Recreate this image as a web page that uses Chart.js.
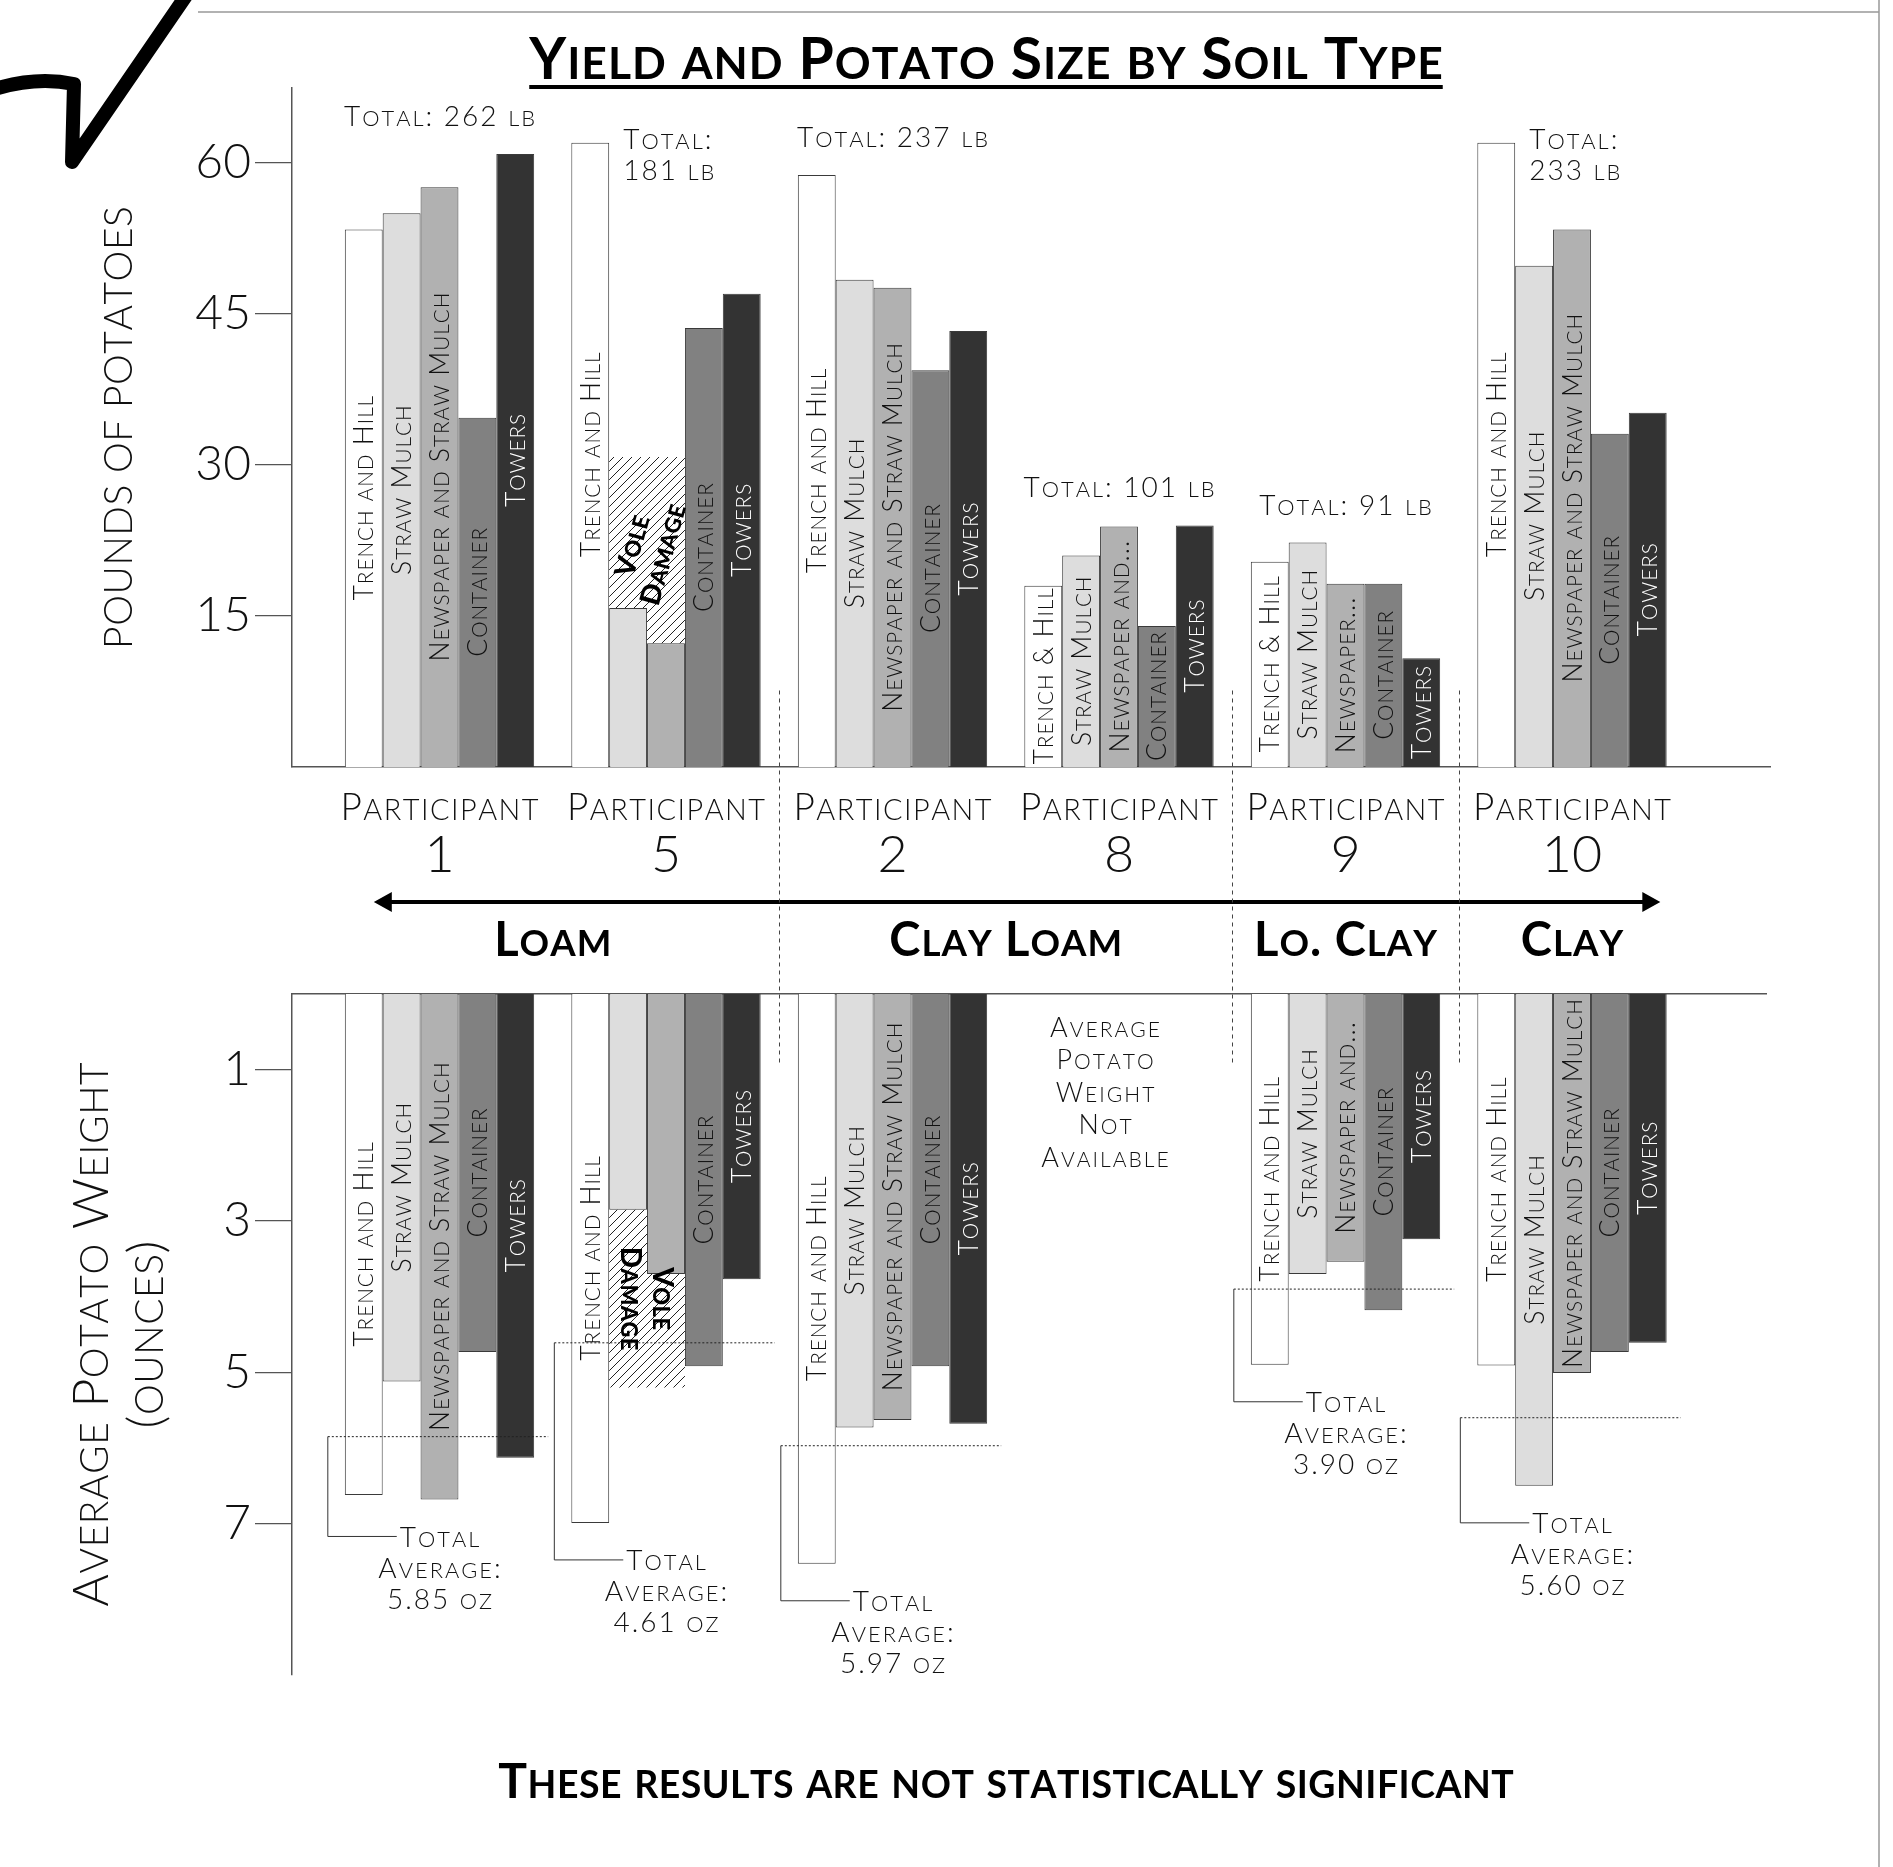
<!DOCTYPE html>
<html>
<head>
<meta charset="utf-8">
<script src="https://cdn.jsdelivr.net/npm/chart.js@4.4.1/dist/chart.umd.min.js"></script>
<style>
  html, body { margin: 0; padding: 0; background: #fff; }
  #wrap { position: relative; width: 1893px; height: 1867px; }
  #wrap canvas { position: absolute; left: 0; top: 0; }
</style>
</head>
<body>
<div id="wrap">
  <canvas id="yieldChart" width="1893" height="1867"></canvas>
  <canvas id="sizeChart" width="1893" height="1867"></canvas>
</div>
<script>
// participants, left to right, with their soil
const participants = ['1', '5', '2', '8', '9', '10'];
const soils = ['Loam', 'Loam', 'Clay Loam', 'Clay Loam', 'Lo. Clay', 'Clay'];
const methods = ['Trench and Hill', 'Straw Mulch', 'Newspaper and Straw Mulch', 'Container', 'Towers'];
const shortNames = [['Trench & Hill'], [], ['Newspaper and...', 'Newspaper...'], [], []];

// pounds of potatoes
const lbTrench = [53.4, 62.0, 58.8, 18.0, 20.4, 62.0];
const lbStraw = [55.0, 15.8, 48.4, 21.0, 22.3, 49.8];
const lbNews = [57.6, 12.3, 47.6, 23.9, 18.2, 53.4];
const lbContainer = [34.7, 43.6, 39.4, 14.0, 18.2, 33.1];
const lbTowers = [60.9, 47.0, 43.3, 24.0, 10.8, 35.2];
const totalLb = [262, 181, 237, 101, 91, 233];
const voleLb = [null, 30.8, null, null, null, null];
const lbTicks = [15, 30, 45, 60];

// average potato weight, ounces
const ozTrench = [6.62, 6.99, 7.53, null, 4.90, 4.91];
const ozStraw = [5.12, 2.85, 5.73, null, 3.70, 6.50];
const ozNews = [6.68, 3.70, 5.63, null, 3.54, 5.01];
const ozContainer = [4.73, 4.92, 4.92, null, 4.18, 4.73];
const ozTowers = [6.13, 3.77, 5.68, null, 3.24, 4.61];
const avgOz = [5.85, 4.61, 5.97, null, 3.90, 5.60];
const voleOz = [null, 5.20, null, null, null, null];
const ozTicks = [1, 3, 5, 7];

const voleMethods = [1, 2];   // straw mulch + newspaper beds were eaten

const lbSeries = [lbTrench, lbStraw, lbNews, lbContainer, lbTowers];
const ozSeries = [ozTrench, ozStraw, ozNews, ozContainer, ozTowers];
const fills = ['#ffffff', '#dddddd', '#b1b1b1', '#818181', '#333333'];
const inks = ['#111', '#111', '#111', '#111', '#fff'];

Chart.defaults.font.family = 'Lato';

function hatchFill() {
  const c = document.createElement('canvas');
  c.width = c.height = 9;
  const g = c.getContext('2d');
  g.strokeStyle = '#222';
  g.lineWidth = 1;
  g.beginPath();
  g.moveTo(0, 9); g.lineTo(9, 0);
  g.moveTo(-1, 1); g.lineTo(1, -1);
  g.moveTo(8, 10); g.lineTo(10, 8);
  g.stroke();
  return g.createPattern(c, 'repeat');
}
const hatch = hatchFill();

// small caps by hand: lower case letters drawn as smaller capitals
function scParts(text, size, ratio) {
  return [...text].map(ch => ({ ch: ch.toUpperCase(), size: ch !== ch.toUpperCase() ? size * ratio : size }));
}
function scWidth(ctx, text, o) {
  const parts = scParts(text, o.size, o.ratio || 0.78);
  let w = 0;
  parts.forEach((p, j) => {
    ctx.font = (o.weight || 300) + ' ' + p.size + 'px Lato';
    w += ctx.measureText(p.ch).width + (j < parts.length - 1 ? (o.track || 0) : 0);
  });
  return w;
}
function drawSC(ctx, text, x, y, o) {
  const w = scWidth(ctx, text, o);
  let cx = o.align === 'left' ? x : o.align === 'right' ? x - w : x - w / 2;
  const base = y + o.size * 0.36;
  ctx.fillStyle = o.color || '#111';
  ctx.textAlign = 'left';
  ctx.textBaseline = 'alphabetic';
  for (const p of scParts(text, o.size, o.ratio || 0.78)) {
    ctx.font = (o.weight || 300) + ' ' + p.size + 'px Lato';
    ctx.fillText(p.ch, cx, base);
    cx += ctx.measureText(p.ch).width + (o.track || 0);
  }
  return w;
}

function makeSets(series, vole) {
  const sets = series.map((vals, k) => ({
    label: methods[k],
    stack: 's' + k,
    data: vals.map((v, i) => ({ x: i + 1, y: v })),
    backgroundColor: fills[k],
    borderColor: '#3a3a3a',
    borderWidth: 1
  }));
  voleMethods.forEach(k => sets.push({
    label: 'Vole damage',
    stack: 's' + k,
    data: vole.map((v, i) => ({ x: i + 1, y: v == null ? null : v - series[k][i] })),
    backgroundColor: hatch,
    borderWidth: 0
  }));
  return sets;
}

function barProps(chart, k, i) {
  return chart.getDatasetMeta(k).data[i].getProps(['x', 'y', 'base', 'width'], true);
}

// method names written up the inside of each bar
function labelBars(chart, series, vole) {
  const ctx = chart.ctx;
  series.forEach((vals, k) => {
    vals.forEach((v, i) => {
      if (v == null) return;
      if (vole[i] != null && voleMethods.includes(k)) return;
      const b = barProps(chart, k, i);
      const len = Math.abs(b.base - b.y);
      const opts = { size: 26.5, track: 1, color: inks[k] };
      const names = [methods[k], ...shortNames[k]];
      let txt = names[names.length - 1];
      for (const n of names) {
        if (scWidth(ctx, n, opts) + 9 <= len) { txt = n; break; }
      }
      ctx.save();
      ctx.translate(b.x, (b.y + b.base) / 2);
      ctx.rotate(-Math.PI / 2);
      drawSC(ctx, txt, 0, 0, opts);
      ctx.restore();
    });
  });
}

function voleText(chart, rotation, upward) {
  const ctx = chart.ctx;
  voleLb.forEach((v, i) => {
    if (v == null) return;
    const a = barProps(chart, 5, i), b = barProps(chart, 6, i);
    const x = (a.x + b.x) / 2;
    const inner = upward ? Math.max(a.base, b.base) : Math.min(a.base, b.base);
    const y = (a.y + inner) / 2;
    ctx.save();
    ctx.translate(x, y);
    ctx.rotate(rotation);
    drawSC(ctx, 'Vole', 0, -16, { size: 28, weight: 900, track: 0.5, color: '#000' });
    drawSC(ctx, 'Damage', 0, 16, { size: 28, weight: 900, track: 0.5, color: '#000' });
    ctx.restore();
  });
}

const yieldDecor = {
  id: 'yieldDecor',
  afterDraw(chart) {
    const ctx = chart.ctx;
    const area = chart.chartArea;
    const xs = chart.scales.x;

    // frame lines and the tick mark in the corner
    ctx.save();
    ctx.strokeStyle = '#999';
    ctx.lineWidth = 1.5;
    ctx.beginPath();
    ctx.moveTo(198, 12); ctx.lineTo(1879, 12);
    ctx.moveTo(1879, 0); ctx.lineTo(1879, 1867);
    ctx.stroke();
    ctx.strokeStyle = '#000';
    ctx.lineWidth = 14;
    ctx.lineJoin = 'round';
    ctx.lineCap = 'round';
    ctx.beginPath();
    ctx.moveTo(-8, 90);
    ctx.quadraticCurveTo(35, 76, 74, 84);
    ctx.lineTo(72, 162);
    ctx.lineTo(190, -10);
    ctx.stroke();
    ctx.restore();

    // title
    const tw = drawSC(ctx, 'Yield and Potato Size by Soil Type', 986, 58, { size: 57, weight: 700, track: 1, color: '#000' });
    ctx.fillStyle = '#000';
    ctx.fillRect(986 - tw / 2, 85, tw, 4);

    // axis title
    ctx.save();
    ctx.translate(area.left - 174, (area.top + area.bottom) / 2);
    ctx.rotate(-Math.PI / 2);
    drawSC(ctx, 'POUNDS OF POTATOES', 0, 0, { size: 39, track: 0.5 });
    ctx.restore();

    labelBars(chart, lbSeries, voleLb);
    voleText(chart, -1.3, true);

    // totals above each group
    participants.forEach((p, i) => {
      const tops = lbSeries.map((s, k) => barProps(chart, k, i).y);
      const top = Math.min(...tops);
      const txt = 'Total: ' + totalLb[i] + ' lb';
      if (top - 38 < area.top + 24) {
        const b = barProps(chart, 1, i);
        const lx = b.x - b.width / 2 + 14;
        drawSC(ctx, 'Total:', lx, tops[0] - 4, { size: 28, track: 2, align: 'left' });
        drawSC(ctx, totalLb[i] + ' lb', lx, tops[0] + 27, { size: 28, track: 2, align: 'left' });
      } else {
        drawSC(ctx, txt, xs.getPixelForValue(i + 1), top - 38, { size: 28, track: 2 });
      }
    });

    // participant names under the axis
    participants.forEach((p, i) => {
      const cx = xs.getPixelForValue(i + 1);
      drawSC(ctx, 'Participant', cx, area.bottom + 40, { size: 37, track: 1.5 });
      drawSC(ctx, p, cx, area.bottom + 86, { size: 52, ratio: 1 });
    });

    // soil gradient arrow
    const ay = area.bottom + 135;
    const ax0 = xs.getPixelForValue(0.71), ax1 = xs.getPixelForValue(6.39);
    ctx.save();
    ctx.strokeStyle = '#000';
    ctx.fillStyle = '#000';
    ctx.lineWidth = 4;
    ctx.beginPath();
    ctx.moveTo(ax0 + 10, ay); ctx.lineTo(ax1 - 10, ay);
    ctx.stroke();
    ctx.beginPath();
    ctx.moveTo(ax0, ay); ctx.lineTo(ax0 + 18, ay - 10); ctx.lineTo(ax0 + 18, ay + 10); ctx.closePath();
    ctx.moveTo(ax1, ay); ctx.lineTo(ax1 - 18, ay - 10); ctx.lineTo(ax1 - 18, ay + 10); ctx.closePath();
    ctx.fill();
    ctx.restore();

    // soil names centred over their participants
    let start = 0;
    soils.forEach((s, i) => {
      if (i === soils.length - 1 || soils[i + 1] !== s) {
        const mid = (start + i) / 2 + 1;
        drawSC(ctx, s, xs.getPixelForValue(mid), area.bottom + 172, { size: 47, weight: 700, track: 1, color: '#000' });
        start = i + 1;
      }
    });
  }
};

const yieldChart = new Chart(document.getElementById('yieldChart'), {
  type: 'bar',
  data: { datasets: makeSets(lbSeries, voleLb) },
  options: {
    responsive: false,
    animation: false,
    layout: { padding: { left: 0, top: 88, right: 123, bottom: 1100 } },
    plugins: { legend: { display: false }, tooltip: { enabled: false } },
    datasets: { bar: { categoryPercentage: 0.836, barPercentage: 1 } },
    scales: {
      x: {
        type: 'linear', min: 0.3488, max: 6.8742, position: 'bottom', offset: false,
        afterBuildTicks: s => { s.ticks = participants.map((p, i) => ({ value: i + 1 })); },
        afterFit: s => { s.height = 0; },
        ticks: { display: false },
        grid: { display: false },
        border: { color: '#555', width: 1.5 }
      },
      y: {
        type: 'linear', min: 0, max: 67.45, stacked: true,
        afterBuildTicks: s => { s.ticks = lbTicks.map(v => ({ value: v })); },
        afterFit: s => { s.width = 292; },
        ticks: { font: { size: 48, weight: '300' }, color: '#111', padding: 4 },
        grid: { drawOnChartArea: false, tickLength: 37, color: '#555', lineWidth: 1.2 },
        border: { color: '#555', width: 1.5 }
      }
    }
  },
  plugins: [yieldDecor]
});

const sizeDecor = {
  id: 'sizeDecor',
  afterDraw(chart) {
    const ctx = chart.ctx;
    const area = chart.chartArea;
    const xs = chart.scales.x, ys = chart.scales.y;

    // axis title, two lines
    ctx.save();
    ctx.translate(area.left - 202, (area.top + area.bottom) / 2);
    ctx.rotate(-Math.PI / 2);
    drawSC(ctx, 'Average Potato Weight', 0, 0, { size: 50, track: 0.5 });
    drawSC(ctx, '(ounces)', 0, 55, { size: 50, track: 0.5 });
    ctx.restore();

    labelBars(chart, ozSeries, voleOz);
    voleText(chart, Math.PI / 2, false);

    // group averages with their brackets
    ctx.save();
    participants.forEach((p, i) => {
      const cx = xs.getPixelForValue(i + 1);
      if (avgOz[i] == null) {
        ['Average', 'Potato', 'Weight', 'Not', 'Available'].forEach((t, j) =>
          drawSC(ctx, t, cx - 14, area.top + 33 + j * 32.5, { size: 27, track: 2 }));
        return;
      }
      const first = barProps(chart, 0, i), last = barProps(chart, 4, i);
      const left = first.x - first.width / 2 - 17;
      const right = last.x + last.width / 2 + 14;
      const ya = ys.getPixelForValue(avgOz[i]);
      const low = Math.max(...ozSeries.map((s, k) => barProps(chart, k, i).y)) + 37;
      ctx.strokeStyle = '#222';
      ctx.lineWidth = 1;
      ctx.setLineDash([2, 2]);
      ctx.beginPath();
      ctx.moveTo(left, ya); ctx.lineTo(right, ya);
      ctx.stroke();
      ctx.setLineDash([]);
      const opts = { size: 28, track: 2 };
      const w = scWidth(ctx, 'Total', opts);
      ctx.strokeStyle = '#333';
      ctx.beginPath();
      ctx.moveTo(left, ya); ctx.lineTo(left, low); ctx.lineTo(cx - w / 2 - 3, low);
      ctx.stroke();
      drawSC(ctx, 'Total', cx, low, opts);
      drawSC(ctx, 'Average:', cx, low + 31, opts);
      drawSC(ctx, avgOz[i].toFixed(2) + ' oz', cx, low + 62, opts);
    });
    ctx.restore();

    // dashed lines between soil types, running across both panels
    const upY = yieldChart.scales.y;
    ctx.save();
    ctx.strokeStyle = '#444';
    ctx.lineWidth = 1;
    ctx.setLineDash([4, 4]);
    soils.forEach((s, i) => {
      if (i < soils.length - 1 && soils[i + 1] !== s) {
        const x = Math.round(xs.getPixelForValue(i + 1.5)) + 0.5;
        ctx.beginPath();
        ctx.moveTo(x, upY.getPixelForValue(7.6));
        ctx.lineTo(x, ys.getPixelForValue(0.95));
        ctx.stroke();
      }
    });
    ctx.restore();

    // footnote
    drawSC(ctx, 'These results are not statistically significant', 1006, 1781, { size: 48, weight: 700, track: 0.5, color: '#000' });
  }
};

const sizeChart = new Chart(document.getElementById('sizeChart'), {
  type: 'bar',
  data: { datasets: makeSets(ozSeries, voleOz) },
  options: {
    responsive: false,
    animation: false,
    layout: { padding: { left: 0, top: 994, right: 127, bottom: 192 } },
    plugins: { legend: { display: false }, tooltip: { enabled: false } },
    datasets: { bar: { categoryPercentage: 0.836, barPercentage: 1 } },
    scales: {
      x: {
        type: 'linear', min: 0.3488, max: 6.8565, position: 'top', offset: false,
        afterBuildTicks: s => { s.ticks = participants.map((p, i) => ({ value: i + 1 })); },
        afterFit: s => { s.height = 0; },
        ticks: { display: false },
        grid: { display: false },
        border: { color: '#555', width: 1.5 }
      },
      y: {
        type: 'linear', min: 0, max: 9, reverse: true, stacked: true,
        afterBuildTicks: s => { s.ticks = ozTicks.map(v => ({ value: v })); },
        afterFit: s => { s.width = 292; },
        ticks: { font: { size: 48, weight: '300' }, color: '#111', padding: 4 },
        grid: { drawOnChartArea: false, tickLength: 37, color: '#555', lineWidth: 1.2 },
        border: { color: '#555', width: 1.5 }
      }
    }
  },
  plugins: [sizeDecor]
});
</script>
</body>
</html>
